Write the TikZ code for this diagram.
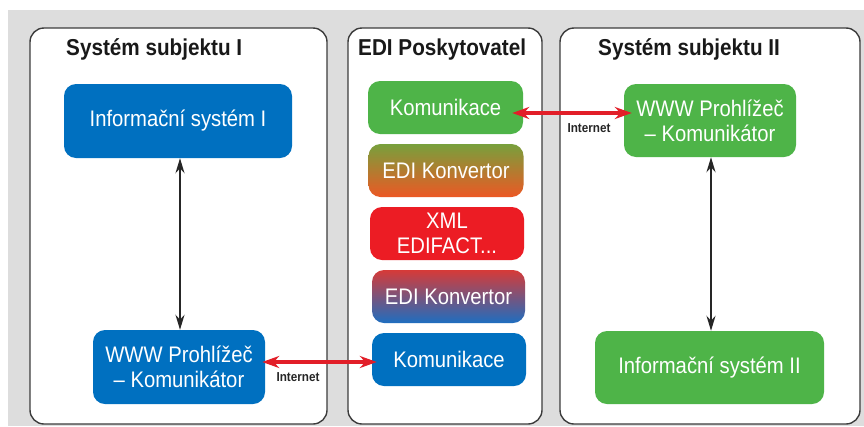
\documentclass[tikz,border=0pt]{standalone}
\usepackage{fontspec}
\setmainfont{Liberation Sans}[FakeStretch=0.9]
\usetikzlibrary{arrows.meta}
\definecolor{bgray}{RGB}{221,221,221}
\definecolor{pborder}{RGB}{60,60,60}
\definecolor{cblue}{RGB}{0,112,192}
\definecolor{cgreen}{RGB}{78,180,72}
\definecolor{cred}{RGB}{236,28,36}
\definecolor{arrred}{RGB}{226,30,40}
\definecolor{gAtop}{RGB}{120,160,60}
\definecolor{gAbot}{RGB}{236,88,36}
\definecolor{gBtop}{RGB}{214,58,56}
\definecolor{gBbot}{RGB}{30,110,192}
\begin{document}
\begin{tikzpicture}[x=1pt,y=-1pt,
  panel/.style={draw=pborder,line width=1.4pt,fill=white,rounded corners=14pt},
  ptitle/.style={font=\fontsize{23}{27}\selectfont\bfseries,text=black!90,anchor=base west,inner sep=0pt},
  box/.style={rounded corners=12pt,text=white,font=\fontsize{22.5}{25}\selectfont,align=center,inner sep=0pt},
  bluebox/.style={box,fill=cblue},
  greenbox/.style={box,fill=cgreen},
  redbox/.style={box,fill=cred},
  gradA/.style={box,top color=gAtop,bottom color=gAbot},
  gradB/.style={box,top color=gBtop,bottom color=gBbot},
  netlabel/.style={font=\fontsize{13}{15}\selectfont\bfseries,text=black!85,inner sep=0pt},
  blackarrow/.style={line width=2pt,black!85,{Stealth[length=15pt,width=9pt]}-{Stealth[length=15pt,width=9pt]}},
  redarrow/.style={line width=3.2pt,arrred,{Stealth[length=17pt,width=12pt]}-{Stealth[length=17pt,width=12pt]}}
]
\useasboundingbox (0,0) rectangle (864,426);
\fill[bgray] (8,10) rectangle (864,426);

% panels
\draw[panel] (30,28) rectangle (327,424);
\draw[panel] (348,28) rectangle (542,424);
\draw[panel] (560,28) rectangle (860,424);

\node[ptitle] (t1) at (66,55) {Systém subjektu I};
\node[ptitle] (t2) at (358,55) {EDI Poskytovatel};
\node[ptitle] (t3) at (598,55) {Systém subjektu II};

% left panel
\node[bluebox,minimum width=228pt,minimum height=74pt] (is1) at (178,121) {Informační systém I};
\node[bluebox,minimum width=172pt,minimum height=74pt] (www1) at (179,367) {WWW Prohlížeč\\– Komunikátor};

% middle panel
\node[greenbox,minimum width=155pt,minimum height=53pt] (kom1) at (445.5,107.5) {Komunikace};
\node[gradA,minimum width=155pt,minimum height=53pt] (edi1) at (446,170.5) {EDI Konvertor};
\node[redbox,minimum width=154pt,minimum height=53pt] (xml) at (447,233.5) {XML\\EDIFACT...};
\node[gradB,minimum width=153pt,minimum height=53pt] (edi2) at (448.5,296.5) {EDI Konvertor};
\node[bluebox,minimum width=154pt,minimum height=53pt] (kom2) at (449,359.5) {Komunikace};

% right panel
\node[greenbox,minimum width=172pt,minimum height=73pt] (www2) at (710,120.5) {WWW Prohlížeč\\– Komunikátor};
\node[greenbox,minimum width=229pt,minimum height=73pt] (is2) at (709.5,367.5) {Informační systém II};

% connectors
\draw[blackarrow] ([xshift=2pt]is1.south) -- ([xshift=1pt]www1.north);
\draw[blackarrow] ([xshift=1pt]www2.south) -- ([xshift=1.5pt]is2.north);
\draw[redarrow] ([xshift=-3pt,yshift=5pt]www1.east) -- ([xshift=5pt,yshift=-2.5pt]kom2.west);
\draw[redarrow] ([xshift=-11pt,yshift=-5.5pt]kom1.east) -- ([xshift=8pt,yshift=7.5pt]www2.west);

\node[netlabel] (n1) at (298,377) {Internet};
\node[netlabel] (n2) at (589,128) {Internet};
\end{tikzpicture}
\end{document}
